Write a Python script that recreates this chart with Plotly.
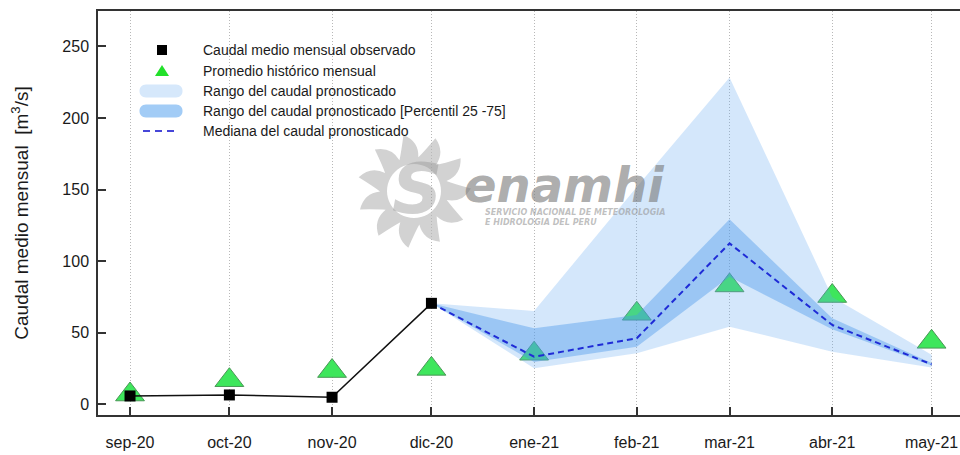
import math
import plotly.graph_objects as go

# ---------------- data ----------------
months = ['2020-09-01', '2020-10-01', '2020-11-01', '2020-12-01', '2021-01-01',
          '2021-02-01', '2021-03-01', '2021-04-01', '2021-05-01']
tick_labels = ['sep-20', 'oct-20', 'nov-20', 'dic-20', 'ene-21',
               'feb-21', 'mar-21', 'abr-21', 'may-21']
y_ticks = [0, 50, 100, 150, 200, 250]

observed_months = months[:4]
observed = [5.8, 6.5, 4.9, 70.5]

historic = [6.8, 16.8, 23.2, 24.7, 35.3, 63.2, 83.0, 75.6, 43.6]

forecast_months = months[3:]
range_min = [70.5, 25.1, 35.6, 54.2, 36.7, 25.7]
range_max = [70.5, 65.2, 151.7, 228.3, 75.0, 34.5]
p25 = [70.5, 29.5, 40.2, 89.0, 52.4, 27.0]
p75 = [70.5, 53.1, 62.4, 129.2, 60.0, 28.8]
median = [70.5, 33.2, 46.1, 112.4, 55.4, 27.9]

names = ['Caudal medio mensual observado', 'Promedio histórico mensual',
         'Rango del caudal pronosticado',
         'Rango del caudal pronosticado [Percentil 25 -75]',
         'Mediana del caudal pronosticado']

# ---------------- layout constants ----------------
FIG_W, FIG_H = 960, 455
M_L, M_R, M_T, M_B = 98, 0, 11, 40
PW = FIG_W - M_L - M_R
PH = FIG_H - M_T - M_B

LIGHT = 'rgba(100,170,240,0.28)'
DARK = 'rgba(70,150,235,0.40)'
LIGHT_SOLID = '#d6e8fb'
DARK_SOLID = '#a2ccf6'
MEDIAN_COLOR = '#1f2bd6'
TRI_COLOR = '#3ee65c'
FONT = 'Liberation Sans, Arial, sans-serif'


def to_paper(px, py):
    return (px - M_L) / PW, (FIG_H - M_B - py) / PH


fig = go.Figure()

# historic triangles (under the bands)
fig.add_trace(go.Scatter(
    x=months, y=historic, mode='markers', name=names[1], showlegend=False,
    marker=dict(symbol='triangle-up', size=25, color=TRI_COLOR,
                line=dict(color='#4a9656', width=1))))

# full forecast range
fig.add_trace(go.Scatter(x=forecast_months, y=range_min, mode='lines',
                         line=dict(width=0, color=LIGHT), showlegend=False,
                         hoverinfo='skip'))
fig.add_trace(go.Scatter(x=forecast_months, y=range_max, mode='lines',
                         name=names[2],
                         line=dict(width=0, color=LIGHT), fill='tonexty',
                         fillcolor=LIGHT, showlegend=False, hoverinfo='skip'))
# percentile 25-75 range
fig.add_trace(go.Scatter(x=forecast_months, y=p25, mode='lines',
                         line=dict(width=0, color=DARK), showlegend=False,
                         hoverinfo='skip'))
fig.add_trace(go.Scatter(x=forecast_months, y=p75, mode='lines',
                         name=names[3],
                         line=dict(width=0, color=DARK), fill='tonexty',
                         fillcolor=DARK, showlegend=False, hoverinfo='skip'))

# median
fig.add_trace(go.Scatter(x=forecast_months, y=median, mode='lines',
                         name=names[4], showlegend=False,
                         line=dict(color=MEDIAN_COLOR, width=2, dash='6px,4px')))

# observed
fig.add_trace(go.Scatter(x=observed_months, y=observed, mode='lines',
                         line=dict(color='#111111', width=1.5),
                         showlegend=False))
fig.add_trace(go.Scatter(x=observed_months, y=observed, mode='markers',
                         name=names[0], showlegend=False,
                         marker=dict(symbol='square', size=11, color='black')))

# ---------------- legend (drawn by hand to match the layout) ----------------
SYM_X = 162
TEXT_X = 201
rows_y = [50, 71, 91, 111, 131]

pill = ('M-15,-6.5 L15,-6.5 C23.7,-6.5 23.7,6.5 15,6.5 '
        'L-15,6.5 C-23.7,6.5 -23.7,-6.5 -15,-6.5 Z')


def add_sym(path, py, fill, px=SYM_X):
    ax, ay = to_paper(px, py)
    fig.add_shape(type='path', path=path, xref='paper', yref='paper',
                  xsizemode='pixel', ysizemode='pixel', xanchor=ax, yanchor=ay,
                  fillcolor=fill, line=dict(width=0))


add_sym('M-5,-5 L5,-5 L5,5 L-5,5 Z', rows_y[0], 'black')
add_sym('M-7,-5 L7,-5 L0,6 Z', rows_y[1], '#22e02a')
add_sym(pill, rows_y[2], LIGHT_SOLID, px=161)
add_sym(pill, rows_y[3], DARK_SOLID, px=161)
lx0, ly = to_paper(143, rows_y[4])
lx1, _ = to_paper(178, rows_y[4])
fig.add_shape(type='line', xref='paper', yref='paper', x0=lx0, x1=lx1,
              y0=ly, y1=ly, line=dict(color='#4646d8', width=2, dash='7px,5px'))

for name, py in zip(names, rows_y):
    tx, ty = to_paper(TEXT_X, py)
    fig.add_annotation(text=name, x=tx, y=ty, xref='paper', yref='paper',
                       xanchor='left', yanchor='middle', showarrow=False,
                       font=dict(family=FONT, size=14, color='#1a1a1a'))

# ---------------- watermark (decorative) ----------------
cx, cy = 414, 191
n = 11
step = 2 * math.pi / n
rot = 0.3


def polar(r, a):
    return to_paper(cx + r * math.cos(a), cy - r * math.sin(a))


parts = ['M%.5f,%.5f' % polar(34, rot)]
for i in range(n):
    a = rot + i * step
    c1 = polar(50, a + 0.05 * step)
    tip = polar(57, a + 0.55 * step)
    c2 = polar(40, a + 0.8 * step)
    nb = polar(34, a + step)
    parts.append('Q%.5f,%.5f %.5f,%.5f' % (c1 + tip))
    parts.append('Q%.5f,%.5f %.5f,%.5f' % (c2 + nb))
parts.append('Z')
hole = [polar(27, -k * 2 * math.pi / 48) for k in range(48)]
parts.append('M%.5f,%.5f' % hole[0])
for h in hole[1:]:
    parts.append('L%.5f,%.5f' % h)
parts.append('Z')
fig.add_shape(type='path', path=' '.join(parts), xref='paper', yref='paper',
              fillcolor='#d2d2d2', line=dict(width=0), layer='below')

sx, sy = to_paper(390, 189)
fig.add_annotation(text='S', x=sx, y=sy, xref='paper', yref='paper',
                   xanchor='left', yanchor='middle', showarrow=False,
                   font=dict(family='DejaVu Sans', size=70, weight='bold',
                             style='italic', color='rgba(150,150,150,0.45)'))
ex, ey = to_paper(462, 185)
fig.add_annotation(text='enamhi', x=ex, y=ey, xref='paper', yref='paper',
                   xanchor='left', yanchor='middle', showarrow=False,
                   font=dict(family='DejaVu Sans', size=48, weight='bold',
                             style='italic', color='rgba(120,120,120,0.62)'))
tx, ty = to_paper(483, 217)
fig.add_annotation(text='SERVICIO NACIONAL DE METEOROLOGIA<br>E HIDROLOGIA DEL PERU',
                   x=tx, y=ty, xref='paper', yref='paper', align='left',
                   xanchor='left', yanchor='middle', showarrow=False,
                   font=dict(family='DejaVu Sans', size=8, weight='bold',
                             style='italic', color='rgba(150,150,150,0.6)'))

# ---------------- axes & layout ----------------
fig.update_layout(
    width=FIG_W, height=FIG_H,
    margin=dict(l=M_L, r=M_R, t=M_T, b=M_B, pad=0),
    paper_bgcolor='white', plot_bgcolor='white',
    font=dict(family=FONT, color='#1a1a1a'),
    showlegend=False,
    xaxis=dict(type='date', range=['2020-08-22 08:00', '2021-05-09 14:00'],
               tickmode='array', tickvals=months, ticktext=tick_labels,
               ticks='inside', ticklen=8, tickwidth=1.5, tickcolor='#333',
               ticklabelstandoff=12,
               tickfont=dict(family=FONT, size=16, color='#1a1a1a'),
               showgrid=True, gridcolor='#b8b8b8', griddash='1px,2px', gridwidth=1,
               showline=True, linecolor='#333', linewidth=1.5, mirror=True,
               zeroline=False),
    yaxis=dict(range=[-7.5, 274.7], tickmode='array', tickvals=y_ticks,
               ticks='inside', ticklen=8, tickwidth=1.5, tickcolor='#333',
               ticklabelstandoff=4,
               tickfont=dict(family=FONT, size=16, color='#1a1a1a'),
               showgrid=False, zeroline=False,
               showline=True, linecolor='#333', linewidth=1.5, mirror=False,
               title=dict(text='Caudal medio mensual  [m<sup>3</sup>/s]',
                          font=dict(family=FONT, size=19, color='#1a1a1a'),
                          standoff=29)),
)

fig.write_html('out.html', config={'displayModeBar': False},
               post_script="document.body.style.margin='0';")
